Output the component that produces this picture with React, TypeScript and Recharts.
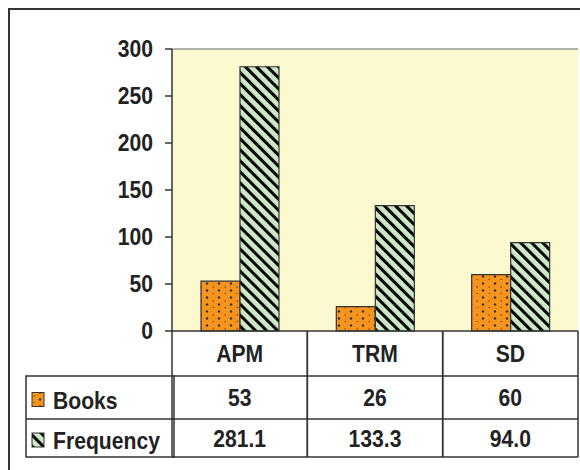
import { BarChart, Bar, XAxis, YAxis, CartesianGrid, ReferenceLine } from 'recharts'

const categories = ['APM', 'TRM', 'SD']
const books = [53, 26, 60]
const frequency = [281.1, 133.3, 94.0]
const bookLabels = ['53', '26', '60']
const frequencyLabels = ['281.1', '133.3', '94.0']
const yTicks = [0, 50, 100, 150, 200, 250, 300]

const data = categories.map((c, i) => ({ name: c, books: books[i], frequency: frequency[i] }))

const series = [
  { key: 'books', name: 'Books', fill: 'url(#dotsFill)', labels: bookLabels },
  { key: 'frequency', name: 'Frequency', fill: 'url(#stripeFill)', labels: frequencyLabels },
]

const FONT = '"Liberation Sans", Arial, Helvetica, sans-serif'
const INK = '#222'
const LINE = '#333'
const HEAD_H = 45
const ROW_H = [43, 38]

// bold text, slightly narrowed like the original chart font
function Txt({ x, y, anchor = 'middle', children }: any) {
  return (
    <text
      transform={`translate(${x},${y}) scale(0.92,1)`}
      textAnchor={anchor}
      fontFamily={FONT}
      fontSize={23}
      fontWeight={700}
      fill={INK}
    >
      {children}
    </text>
  )
}

function YTick(props: any) {
  const { x, y, payload } = props
  return (
    <Txt x={x} y={y + 8} anchor="end">
      {payload.value}
    </Txt>
  )
}

function TableTick(props: any) {
  const { x, y, payload } = props
  const half = payload.offset || 67.7
  const i = categories.indexOf(payload.value)
  const left = x - half
  const right = x + half
  const r1 = y + HEAD_H
  const r2 = r1 + ROW_H[0]
  const r3 = r2 + ROW_H[1]
  return (
    <g>
      <line x1={left} x2={left} y1={y} y2={r3} stroke={LINE} strokeWidth={1.5} />
      <line x1={right} x2={right} y1={y} y2={r3} stroke={LINE} strokeWidth={1.5} />
      <line x1={left} x2={right} y1={r1} y2={r1} stroke={LINE} strokeWidth={1.5} />
      <line x1={left} x2={right} y1={r2} y2={r2} stroke={LINE} strokeWidth={1.5} />
      <line x1={left} x2={right} y1={r3} y2={r3} stroke={LINE} strokeWidth={1.5} />
      <Txt x={x} y={y + 31}>{payload.value}</Txt>
      <Txt x={x} y={r1 + 30}>{series[0].labels[i]}</Txt>
      <Txt x={x} y={r2 + 28}>{series[1].labels[i]}</Txt>
    </g>
  )
}

function LegendColumn() {
  const top = 331 + HEAD_H
  const w = 148
  const h = ROW_H[0] + ROW_H[1]
  return (
    <svg
      width={w + 2}
      height={h + 2}
      style={{ position: 'absolute', left: 25, top: top - 1 }}
    >
      <rect x={1} y={1} width={w} height={h} fill="none" stroke={LINE} strokeWidth={1.5} />
      <line x1={1} x2={w + 1} y1={1 + ROW_H[0]} y2={1 + ROW_H[0]} stroke={LINE} strokeWidth={1.5} />
      {series.map((s, k) => {
        const rowTop = 1 + (k === 0 ? 0 : ROW_H[0])
        const rh = ROW_H[k]
        return (
          <g key={s.key}>
            <rect x={7} y={rowTop + rh / 2 - 5} width={12} height={14} fill={s.fill} stroke={LINE} strokeWidth={1} />
            <Txt x={28} y={rowTop + rh / 2 + 11} anchor="start">
              {s.name}
            </Txt>
          </g>
        )
      })}
    </svg>
  )
}

export default function App() {
  return (
    <div style={{ position: 'absolute', left: 0, top: 0, width: 580, height: 470, overflow: 'hidden', background: '#fff' }}>
      <svg width={0} height={0} style={{ position: 'absolute' }}>
        <defs>
          <pattern id="dotsFill" width={12} height={14} patternUnits="userSpaceOnUse">
            <rect width={12} height={14} fill="#F7941D" />
            <circle cx={3} cy={3.5} r={1.2} fill="#333" />
            <circle cx={3} cy={10.5} r={1.2} fill="#333" />
            <rect x={8.5} y={6.5} width={1.5} height={1} fill="#5a3a10" />
            <rect x={8.5} y={13.2} width={1.5} height={0.8} fill="#5a3a10" />
          </pattern>
          <pattern id="stripeFill" width={7.8} height={7.8} patternUnits="userSpaceOnUse" patternTransform="rotate(-45)">
            <rect width={7.8} height={7.8} fill="#CDE8C6" />
            <rect x={0} y={0} width={3} height={7.8} fill="#000" />
          </pattern>
        </defs>
      </svg>
      <div
        style={{
          position: 'absolute',
          left: 8,
          top: 8,
          width: 600,
          height: 500,
          borderTop: '2px solid #333',
          borderLeft: '2px solid #333',
        }}
      />
      <div style={{ position: 'absolute', left: 0, top: 0 }}>
        <BarChart
          width={580}
          height={470}
          data={data}
          margin={{ top: 49, right: 2, left: 112, bottom: 0 }}
          barSize={39}
          barGap={0}
        >
          <CartesianGrid horizontal={false} vertical={false} fill="#FCF8D0" />
          <ReferenceLine y={300} stroke="#9a9a9a" strokeWidth={1.5} />
          <XAxis
            dataKey="name"
            height={139}
            tickSize={0}
            tickMargin={0}
            tick={<TableTick />}
            axisLine={{ stroke: LINE, strokeWidth: 1.5 }}
            interval={0}
          />
          <YAxis
            width={60}
            domain={[0, 300]}
            ticks={yTicks}
            tickSize={7}
            tickMargin={12}
            tickLine={{ stroke: LINE, strokeWidth: 1.5 }}
            axisLine={{ stroke: LINE, strokeWidth: 1.5 }}
            tick={<YTick />}
          />
          <YAxis
            yAxisId="right"
            orientation="right"
            width={0}
            tick={false}
            tickLine={false}
            axisLine={{ stroke: '#9a9a9a', strokeWidth: 2 }}
          />
          {series.map((s) => (
            <Bar
              key={s.key}
              dataKey={s.key}
              name={s.name}
              fill={s.fill}
              stroke={LINE}
              strokeWidth={1.2}
              isAnimationActive={false}
            />
          ))}
        </BarChart>
      </div>
      <LegendColumn />
    </div>
  )
}
